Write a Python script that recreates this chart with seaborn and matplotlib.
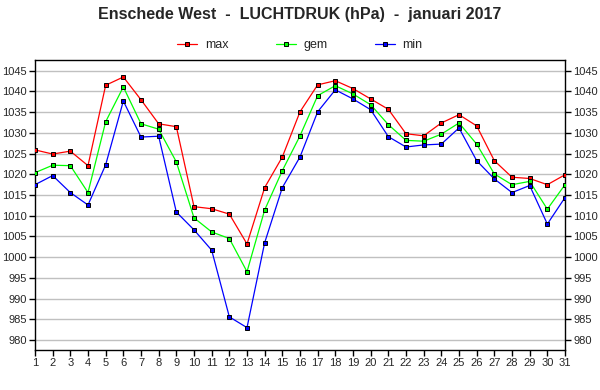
import matplotlib
matplotlib.use("Agg")
import matplotlib.pyplot as plt
import pandas as pd
import seaborn as sns

# daily air pressure (hPa), Enschede West, january 2017
days = list(range(1, 32))
p_max = [1025.9, 1024.9, 1025.6, 1022.1, 1041.5, 1043.5, 1038.0, 1032.2, 1031.5, 1012.2,
         1011.7, 1010.4, 1003.2, 1016.8, 1024.2, 1035.1, 1041.6, 1042.6, 1040.7, 1038.2,
         1035.7, 1029.8, 1029.3, 1032.4, 1034.4, 1031.7, 1023.3, 1019.3, 1019.0, 1017.5,
         1019.9]
p_gem = [1020.4, 1022.2, 1022.1, 1015.6, 1032.7, 1041.1, 1032.2, 1030.9, 1023.0, 1009.5,
         1006.1, 1004.5, 996.5, 1011.4, 1020.9, 1029.3, 1039.0, 1041.4, 1039.4, 1036.8,
         1032.0, 1028.2, 1028.0, 1029.7, 1032.4, 1027.3, 1020.1, 1017.5, 1018.3, 1011.6,
         1017.5]
p_min = [1017.5, 1019.7, 1015.6, 1012.6, 1022.3, 1037.7, 1029.0, 1029.2, 1010.9, 1006.6,
         1001.7, 985.6, 983.0, 1003.5, 1016.8, 1024.2, 1035.1, 1040.4, 1038.2, 1035.6,
         1029.1, 1026.6, 1027.1, 1027.3, 1031.2, 1023.3, 1018.9, 1015.6, 1017.3, 1008.0,
         1014.4]
series = ["max", "gem", "min"]
colors = ["#ff0000", "#00ff00", "#0000ff"]

df = pd.DataFrame({"dag": days, "max": p_max, "gem": p_gem, "min": p_min})
long = df.melt(id_vars="dag", var_name="serie", value_name="hPa")

sns.set_style("white")
plt.rcParams["font.family"] = ["Liberation Sans", "DejaVu Sans"]

fig = plt.figure(figsize=(6, 3.9), dpi=100)
ax = fig.add_axes([35 / 600, 1 - 350 / 390, 530 / 600, 290 / 390])

mk = dict(marker="s", markersize=3, markeredgecolor="black", markeredgewidth=0.7)
sns.lineplot(data=long, x="dag", y="hPa", hue="serie", hue_order=series,
             palette=colors, linewidth=0.9, ax=ax, legend=False, zorder=3, **mk)

ax.set_xlim(1, 31)
ax.set_ylim(977.6, 1047.6)
ax.set_xticks(days)
ax.set_yticks(range(980, 1046, 5))
ax.grid(axis="y", color="#c0c0c0", linewidth=1)
ax.set_axisbelow(True)
for s in ax.spines.values():
    s.set_color("black")
    s.set_linewidth(1)
ax.tick_params(axis="both", direction="out", length=4, width=1, color="black",
               labelsize=8, pad=2, left=True, bottom=True, right=True,
               labelright=True)
ax.set_xlabel("")
ax.set_ylabel("")

handles = [plt.Line2D([], [], color=c, linewidth=0.9, **mk) for c in colors]
fig.legend(handles, series, loc="center", bbox_to_anchor=(0.5, 1 - 45 / 390), ncol=3,
           frameon=False, fontsize=9, handlelength=1.6, columnspacing=3.8, handletextpad=0.6)

fig.text(0.5, 1 - 15 / 390, "Enschede West  -  LUCHTDRUK (hPa)  -  januari 2017",
         ha="center", va="center", fontsize=11.5, fontweight="bold")

fig.savefig("out.png", dpi=100)
